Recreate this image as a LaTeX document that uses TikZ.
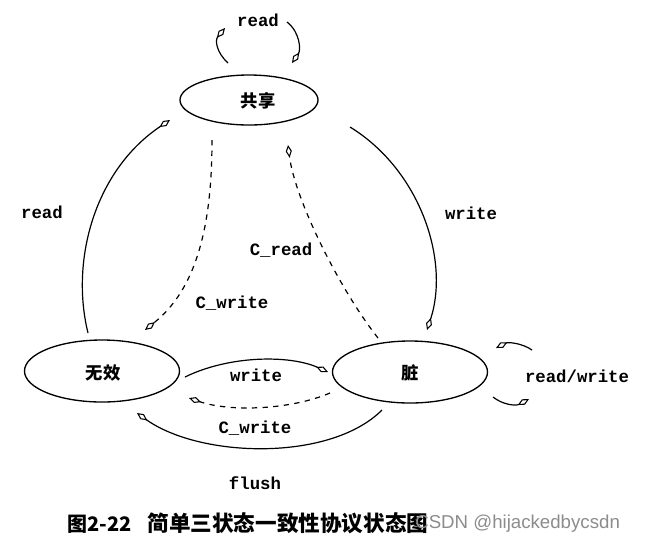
\documentclass[tikz,border=0pt]{standalone}
\usepackage{fontspec}
\setmonofont{Liberation Mono}
\newfontfamily\cjk{Noto Sans CJK SC}
\newfontfamily\wmfont{Liberation Sans}
\usetikzlibrary{shapes.geometric,arrows.meta}
\tikzset{
  state/.style={draw,ellipse,line width=1pt,inner sep=0pt},
  lbl/.style={font=\ttfamily\bfseries\fontsize{13}{13}\selectfont,inner sep=0pt},
  tr/.style={line width=0.9pt,-{Diamond[open,length=9.5pt,width=4.6pt,line width=0.8pt]}},
  ctr/.style={tr,dash pattern=on 4pt off 4pt},
}
\begin{document}
\begin{tikzpicture}[x=0.75pt,y=-0.75pt]
\useasboundingbox (0,0) rectangle (645,544);
\node[state,minimum width=138*0.75pt,minimum height=50*0.75pt] (gx) at (249,100) {};
\node[font=\cjk\bfseries\fontsize{13}{13}\selectfont] (gxt) at (258,101) {共享};
\node[state,minimum width=155*0.75pt,minimum height=62*0.75pt] (wx) at (102,371) {};
\node[font=\cjk\bfseries\fontsize{13}{13}\selectfont] (wxt) at (103,373) {无效};
\node[state,minimum width=155*0.75pt,minimum height=62*0.75pt] (zang) at (410,372) {};
\node[font=\cjk\bfseries\fontsize{13}{13}\selectfont] (zt) at (410,373) {脏};

% end points
\coordinate (a1) at (88,333);   \coordinate (a2) at (170,120);
\coordinate (b1) at (350,127);  \coordinate (b2) at (427,330);
\coordinate (c1) at (212,140);  \coordinate (c2) at (145,330);
\coordinate (d1) at (378,338);  \coordinate (d2) at (288,145);
\coordinate (e1) at (185,377);  \coordinate (e2) at (328,372);
\coordinate (f1) at (330,393);  \coordinate (f2) at (189,398);
\coordinate (g1) at (382,410);  \coordinate (g2) at (137,413);
\coordinate (h1) at (228,63);   \coordinate (h2) at (225,28);
\coordinate (i1) at (287,22);   \coordinate (i2) at (292,63);
\coordinate (j1) at (532,350);  \coordinate (j2) at (496,348);
\coordinate (k1) at (493,397);  \coordinate (k2) at (529,399);

\draw[tr] (a1) .. controls (70,260) and (95,170) .. (a2);
\draw[tr] (b1) .. controls (420,170) and (450,260) .. (b2);
\draw[ctr] (c1) .. controls (212,230) and (195,290) .. (c2);
\draw[ctr] (d1) .. controls (340,290) and (295,200) .. (d2);
\draw[tr] (e1) .. controls (230,355) and (290,355) .. (e2);
\draw[ctr] (f1) .. controls (290,410) and (230,412) .. (f2);
\draw[tr] (g1) .. controls (330,462) and (200,458) .. (g2);
\draw[tr] (h1) .. controls (216,52) and (215,40) .. (h2);
\draw[tr] (i1) .. controls (300,32) and (301,50) .. (i2);
\draw[tr] (j1) .. controls (522,343) and (508,342) .. (j2);
\draw[tr] (k1) .. controls (503,405) and (516,406) .. (k2);

\node[lbl] (l1) at (258,20) {read};
\node[lbl] (l2) at (42,212) {read};
\node[lbl] (l3) at (471,213) {write};
\node[lbl] (l4) at (281,250) {C\_read};
\node[lbl] (l5) at (232,303) {C\_write};
\node[lbl] (l6) at (256,375) {write};
\node[lbl] (l7) at (255,428) {C\_write};
\node[lbl] (l8) at (255,483) {flush};
\node[lbl] (l9) at (577,376) {read/write};

\node[font=\cjk\bfseries\fontsize{15}{15}\selectfont,anchor=west,inner sep=0pt] (cap) at (67,523) {图2-22\hspace{0.8em}{\fontsize{16.2}{16}\selectfont 简单三状态一致性协议状态图}};
\node[font=\wmfont\fontsize{14}{14}\selectfont,text=black!45,anchor=west,inner sep=0pt] (wm) at (415,524) {CSDN @hijackedbycsdn};
\end{tikzpicture}
\end{document}
